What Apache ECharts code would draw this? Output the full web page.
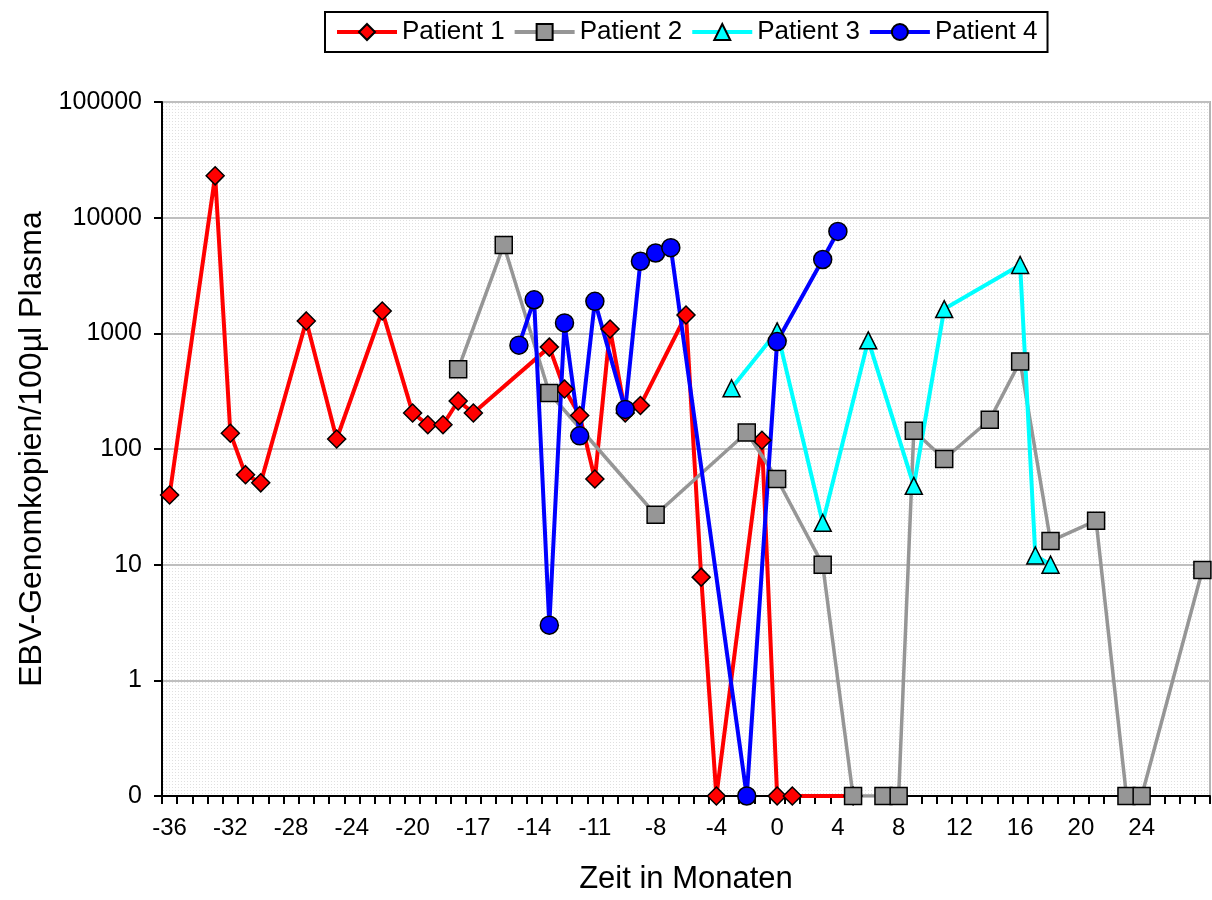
<!DOCTYPE html>
<html>
<head>
<meta charset="utf-8">
<script src="https://cdn.jsdelivr.net/npm/echarts@6/dist/echarts.min.js"></script>
<style>
html,body{margin:0;padding:0;background:#fff;}
#chart{width:1212px;height:900px;}
</style>
</head>
<body>
<div id="chart"></div>
<script>
// Category axis (months); Excel category axis, not uniformly spaced
const categories = ['-36','-35','-34','-33','-32','-31','-30','-29','-28','-27','-26','-25','-24','-23','-22','-21','-20',
  '-19.25','-18.5','-17.75','-17','-16.25','-15.5','-14.75','-14','-13.25','-12.5','-11.75','-11','-10.25','-9.5','-8.75','-8',
  '-7','-6','-5','-4','-3','-2','-1','0',
  '1','2','3','4','5','6','7','8','9','10','11','12','13','14','15','16','17','18','19','20','21','22','23','24','25','26','27','28'];
const shownLabels = ['-36','-32','-28','-24','-20','-17','-14','-11','-8','-4','0','4','8','12','16','20','24'];
const yTickValues = [0, 1, 10, 100, 1000, 10000, 100000];

const seriesNames = ['Patient 1','Patient 2','Patient 3','Patient 4'];

const p1Months = ['-36','-33','-32','-31','-30','-27','-25','-22','-20','-19.25','-18.5','-17.75','-17','-13.25','-12.5','-11.75','-11','-10.25','-9.5','-8.75','-6','-5','-4','-1','0','1','5'];
const p1Values = [40,23000,137,60,51,1280,122,1560,205,162,162,260,205,760,330,195,55,1090,205,238,1440,7.8,0,119,0,0,0];

const p2Months = ['-17.75','-15.5','-13.25','-8','-2','0','3','5','7','8','9','11','14','16','18','21','23','24','28'];
const p2Values = [490,5800,305,27,139,55,10,0,0,0,144,82,179,572,16,24,0,0,9];

const p3Months = ['-3','0','3','6','9','11','16','17','18'];
const p3Values = [335,1040,23,870,48,1620,3900,12,10];

const p4Months = ['-14.75','-14','-13.25','-12.5','-11.75','-11','-9.5','-8.75','-8','-7','-2','0','3','4'];
const p4Values = [790,1950,3,1230,130,1890,220,4200,4950,5500,0,850,4350,7600];

const ZERO_LEVEL = 0.1; // "0" on the log axis

function build(months, values){
  const arr = categories.map(() => null);
  months.forEach((m, k) => {
    const idx = categories.indexOf(m);
    arr[idx] = values[k] > 0 ? values[k] : ZERO_LEVEL;
  });
  return arr;
}

// dotted plot-area background
const pat = document.createElement('canvas');
pat.width = 3; pat.height = 3;
const pctx = pat.getContext('2d');
pctx.fillStyle = '#ffffff'; pctx.fillRect(0,0,3,3);
pctx.fillStyle = '#e0e0e0'; pctx.fillRect(1,1,1,1);

const FONT = "'Liberation Sans', Arial, sans-serif";

const chart = echarts.init(document.getElementById('chart'), null, {renderer:'canvas'});

function mk(name, data, symbol, size, color, fill, width){
  return {
    name: name, type: 'line', data: data, connectNulls: true,
    symbol: symbol, symbolSize: size, showSymbol: true, showAllSymbol: true,
    lineStyle: {color: color, width: width},
    itemStyle: {color: fill, borderColor: '#000', borderWidth: 1.5},
    emphasis: {disabled: true},
    z: 2
  };
}

chart.setOption({
  animation: false,
  backgroundColor: '#ffffff',
  textStyle: {fontFamily: FONT, color: '#000'},
  legend: {
    data: seriesNames,
    left: 325, top: 12,
    padding: [7, 10, 7, 10],
    itemGap: 8,
    itemWidth: 60, itemHeight: 20,
    borderColor: '#000', borderWidth: 2,
    backgroundColor: '#fff',
    lineStyle: {width: 4},
    textStyle: {fontSize: 26, fontFamily: FONT, color: '#000'}
  },
  grid: {
    left: 162, right: 2, top: 102, bottom: 104,
    show: true,
    backgroundColor: {image: pat, repeat: 'repeat'},
    borderColor: '#b4b4b4', borderWidth: 2
  },
  xAxis: {
    type: 'category',
    data: categories,
    boundaryGap: true,
    name: 'Zeit in Monaten',
    nameLocation: 'middle',
    nameGap: 68,
    nameTextStyle: {fontSize: 31, fontFamily: FONT, color: '#000'},
    axisLine: {show: true, lineStyle: {color: '#000', width: 2}},
    axisTick: {show: true, interval: 0, length: 8, lineStyle: {color: '#000', width: 2}},
    axisLabel: {
      interval: function(idx, val){ return shownLabels.indexOf(val) >= 0; },
      fontSize: 24, fontFamily: FONT, color: '#000', margin: 20
    },
    splitLine: {show: false}
  },
  yAxis: {
    type: 'log', logBase: 10,
    min: ZERO_LEVEL, max: yTickValues[yTickValues.length - 1],
    name: 'EBV-Genomkopien/100µl Plasma',
    nameLocation: 'middle',
    nameGap: 114,
    nameTextStyle: {fontSize: 32, fontFamily: FONT, color: '#000'},
    axisLine: {show: true, lineStyle: {color: '#000', width: 2}},
    axisTick: {show: true, length: 8, lineStyle: {color: '#000', width: 2}},
    axisLabel: {
      fontSize: 25, fontFamily: FONT, color: '#000', margin: 20,
      formatter: function(v){ return v < 1 ? String(yTickValues[0]) : String(Math.round(v)); }
    },
    splitLine: {show: true, lineStyle: {color: '#bfbfbf', width: 2}}
  },
  series: [
    mk(seriesNames[0], build(p1Months, p1Values), 'diamond', 18, '#ff0000', '#ff0000', 4),
    mk(seriesNames[1], build(p2Months, p2Values), 'rect', 17, '#969696', '#969696', 3.5),
    mk(seriesNames[2], build(p3Months, p3Values), 'triangle', 17, '#00ffff', '#00ffff', 4),
    mk(seriesNames[3], build(p4Months, p4Values), 'circle', 18, '#0000ff', '#0000ff', 4)
  ]
});
</script>
</body>
</html>
